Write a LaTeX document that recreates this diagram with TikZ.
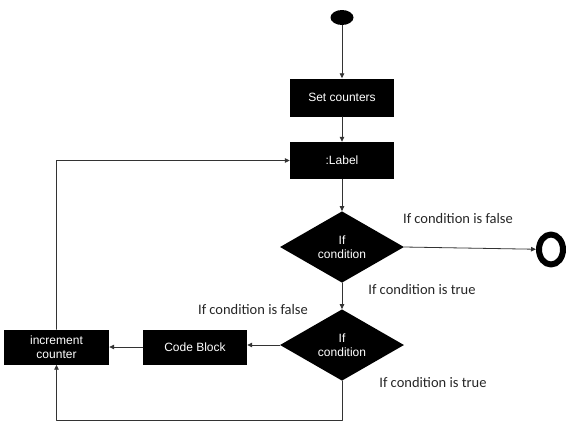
\documentclass[tikz,border=0pt]{standalone}
\usepackage{fontspec}
\setmainfont{Liberation Sans}
\newfontfamily\notefont{Carlito}
\usetikzlibrary{arrows.meta}
\usetikzlibrary{shapes.geometric}

\begin{document}
\begin{tikzpicture}[line cap=round,line join=round,x=1pt,y=-1pt,
  >={Triangle[length=5pt,width=4.5pt]},
  flow/.style={->,line width=0.8pt,draw=black!80},
  box/.style={fill=black,text=white,minimum width=104pt,minimum height=38pt,inner sep=1pt,align=center,font=\fontsize{12}{14.5}\selectfont},
  decision/.style={diamond,fill=black,text=white,minimum width=124pt,minimum height=70pt,inner sep=0pt,align=center,font=\fontsize{12}{14.5}\selectfont},
  note/.style={text=black!85,font=\notefont\fontsize{14.5}{16}\selectfont}]
\useasboundingbox (0,0) rectangle (575,429);
\node [ellipse,fill=black,minimum width=23pt,minimum height=15pt,inner sep=0pt] (start) at (342,17.5) {};
\node [box] (setc) at (342,97.5) {Set counters};
\node [box,minimum height=37pt] (lbl) at (342,160.5) {:Label};
\node [decision] (cond1) at (342,247) {If\\condition};
\node [ellipse,draw=black,line width=6pt,minimum width=24pt,minimum height=30pt,inner sep=0pt] (stop) at (551,249.5) {};
\node [decision] (cond2) at (342,345) {If\\condition};
\node [box,minimum height=35pt] (code) at (195,347) {Code Block};
\node [box,minimum width=105pt,minimum height=35pt] (incr) at (56.5,347) {increment\\counter};
\coordinate (low) at (342,420);
% labels
\node [note] (false1) at (458,219) {If condition is false};
\node [note] (true1) at (422,290) {If condition is true};
\node [note] (false2) at (253,310) {If condition is false};
\node [note] (true2) at (433,383) {If condition is true};
% connectors
\draw [flow] (start) -- (setc);
\draw [flow] (setc) -- (lbl);
\draw [flow] (lbl) -- (cond1);
\draw [flow] (cond1.east) -- (stop);
\draw [flow] (cond1.south) -- (cond2.north);
\draw [flow] (cond2.west) -- (code.east |- cond2.west);
\draw [flow] (code.west) -- (incr.east);
\draw [flow] (incr.north) |- (lbl.west);
\draw [flow] (cond2.south) -- (low) -| (incr.south);
\end{tikzpicture}
\end{document}
